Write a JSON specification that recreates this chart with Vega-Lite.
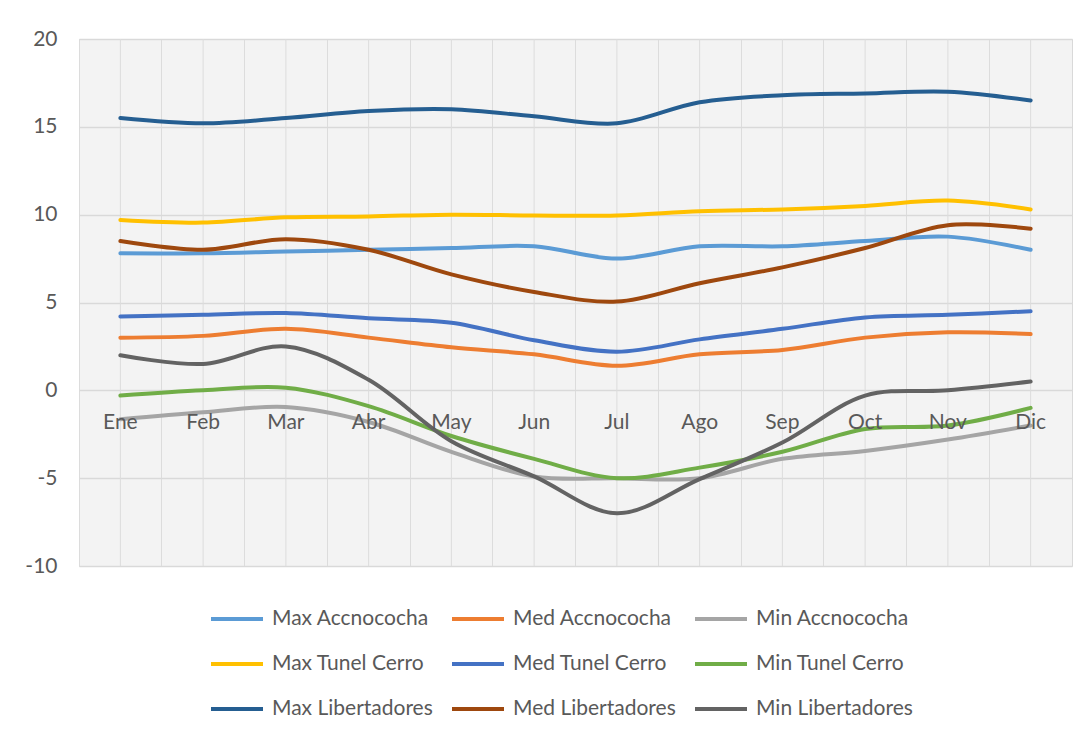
{
  "$schema": "https://vega.github.io/schema/vega-lite/v6.json",
  "width": 993,
  "height": 527,
  "autosize": {"type": "none"},
  "padding": {"left": 79, "top": 39, "right": 16, "bottom": 169},
  "background": "white",
  "config": {
    "font": "Lato",
    "view": {"fill": "#f3f3f3", "stroke": "#d9d9d9", "strokeWidth": 1}
  },
  "data": {
    "values": [
      {"month": "Ene", "Max Accnococha": 7.8, "Med Accnococha": 3.0, "Min Accnococha": -1.65, "Max Tunel Cerro": 9.7, "Med Tunel Cerro": 4.2, "Min Tunel Cerro": -0.3, "Max Libertadores": 15.5, "Med Libertadores": 8.5, "Min Libertadores": 2.0},
      {"month": "Feb", "Max Accnococha": 7.8, "Med Accnococha": 3.1, "Min Accnococha": -1.25, "Max Tunel Cerro": 9.55, "Med Tunel Cerro": 4.3, "Min Tunel Cerro": 0.0, "Max Libertadores": 15.2, "Med Libertadores": 8.0, "Min Libertadores": 1.5},
      {"month": "Mar", "Max Accnococha": 7.9, "Med Accnococha": 3.5, "Min Accnococha": -0.95, "Max Tunel Cerro": 9.85, "Med Tunel Cerro": 4.4, "Min Tunel Cerro": 0.15, "Max Libertadores": 15.5, "Med Libertadores": 8.6, "Min Libertadores": 2.5},
      {"month": "Abr", "Max Accnococha": 8.0, "Med Accnococha": 3.0, "Min Accnococha": -1.8, "Max Tunel Cerro": 9.9, "Med Tunel Cerro": 4.1, "Min Tunel Cerro": -0.9, "Max Libertadores": 15.9, "Med Libertadores": 8.0, "Min Libertadores": 0.6},
      {"month": "May", "Max Accnococha": 8.1, "Med Accnococha": 2.45, "Min Accnococha": -3.5, "Max Tunel Cerro": 10.0, "Med Tunel Cerro": 3.85, "Min Tunel Cerro": -2.6, "Max Libertadores": 16.0, "Med Libertadores": 6.6, "Min Libertadores": -2.9},
      {"month": "Jun", "Max Accnococha": 8.2, "Med Accnococha": 2.05, "Min Accnococha": -4.9, "Max Tunel Cerro": 9.95, "Med Tunel Cerro": 2.85, "Min Tunel Cerro": -3.9, "Max Libertadores": 15.6, "Med Libertadores": 5.6, "Min Libertadores": -4.9},
      {"month": "Jul", "Max Accnococha": 7.5, "Med Accnococha": 1.4, "Min Accnococha": -5.0, "Max Tunel Cerro": 9.95, "Med Tunel Cerro": 2.2, "Min Tunel Cerro": -5.0, "Max Libertadores": 15.2, "Med Libertadores": 5.05, "Min Libertadores": -7.0},
      {"month": "Ago", "Max Accnococha": 8.2, "Med Accnococha": 2.05, "Min Accnococha": -5.0, "Max Tunel Cerro": 10.2, "Med Tunel Cerro": 2.9, "Min Tunel Cerro": -4.4, "Max Libertadores": 16.4, "Med Libertadores": 6.1, "Min Libertadores": -5.05},
      {"month": "Sep", "Max Accnococha": 8.2, "Med Accnococha": 2.3, "Min Accnococha": -3.9, "Max Tunel Cerro": 10.3, "Med Tunel Cerro": 3.5, "Min Tunel Cerro": -3.5, "Max Libertadores": 16.8, "Med Libertadores": 7.0, "Min Libertadores": -2.97},
      {"month": "Oct", "Max Accnococha": 8.5, "Med Accnococha": 3.0, "Min Accnococha": -3.45, "Max Tunel Cerro": 10.5, "Med Tunel Cerro": 4.15, "Min Tunel Cerro": -2.2, "Max Libertadores": 16.9, "Med Libertadores": 8.1, "Min Libertadores": -0.3},
      {"month": "Nov", "Max Accnococha": 8.75, "Med Accnococha": 3.3, "Min Accnococha": -2.8, "Max Tunel Cerro": 10.8, "Med Tunel Cerro": 4.3, "Min Tunel Cerro": -2.0, "Max Libertadores": 17.0, "Med Libertadores": 9.4, "Min Libertadores": 0.0},
      {"month": "Dic", "Max Accnococha": 8.0, "Med Accnococha": 3.2, "Min Accnococha": -2.0, "Max Tunel Cerro": 10.3, "Med Tunel Cerro": 4.5, "Min Tunel Cerro": -1.0, "Max Libertadores": 16.5, "Med Libertadores": 9.2, "Min Libertadores": 0.5}
    ]
  },
  "encoding": {
    "x": {
      "field": "month",
      "type": "ordinal",
      "sort": ["Ene", "Feb", "Mar", "Abr", "May", "Jun", "Jul", "Ago", "Sep", "Oct", "Nov", "Dic"],
      "bandPosition": 0.5,
      "scale": {"type": "band", "paddingInner": 0, "paddingOuter": 0},
      "axis": {"title": null, "labels": false, "ticks": false, "domain": false, "grid": true, "bandPosition": 0, "gridColor": "#dcdcdc", "gridWidth": 1}
    }
  },
  "layer": [
    {
      "mark": {"type": "rule", "color": "#dcdcdc", "strokeWidth": 1},
      "encoding": {}
    },
    {
      "transform": [
        {"fold": ["Max Accnococha", "Med Accnococha", "Min Accnococha", "Max Tunel Cerro", "Med Tunel Cerro", "Min Tunel Cerro", "Max Libertadores", "Med Libertadores", "Min Libertadores"], "as": ["series", "value"]}
      ],
      "mark": {"type": "line", "interpolate": "catmull-rom", "strokeWidth": 4, "strokeCap": "round"},
      "encoding": {
        "y": {
          "field": "value",
          "type": "quantitative",
          "scale": {"domain": [-10, 20], "nice": false},
          "axis": {"title": null, "values": [-10, -5, 0, 5, 10, 15, 20], "labelExpr": "toString(datum.value)", "domain": false, "ticks": false, "labelPadding": 22, "labelFontSize": 21, "labelColor": "#595959", "gridColor": "#d9d9d9", "gridWidth": 1.5}
        },
        "color": {
          "field": "series",
          "type": "nominal",
          "scale": {
            "domain": ["Max Accnococha", "Max Tunel Cerro", "Max Libertadores", "Med Accnococha", "Med Tunel Cerro", "Med Libertadores", "Min Accnococha", "Min Tunel Cerro", "Min Libertadores"],
            "range": ["#5B9BD5", "#FFC000", "#255E91", "#ED7D31", "#4472C4", "#9E480E", "#A5A5A5", "#70AD47", "#636363"]
          },
          "legend": {
            "title": null,
            "orient": "none",
            "legendX": 130,
            "legendY": 552,
            "columns": 3,
            "symbolType": "stroke",
            "symbolSize": 2704,
            "symbolStrokeWidth": 4,
            "labelFontSize": 21,
            "labelColor": "#595959",
            "labelLimit": 400,
            "labelOffset": 7,
            "rowPadding": 7,
            "columnPadding": 11
          }
        }
      }
    },
    {
      "mark": {"type": "text", "dy": 33, "fontSize": 21, "color": "#595959"},
      "encoding": {
        "y": {"datum": 0, "type": "quantitative"},
        "text": {"field": "month"}
      }
    }
  ]
}
